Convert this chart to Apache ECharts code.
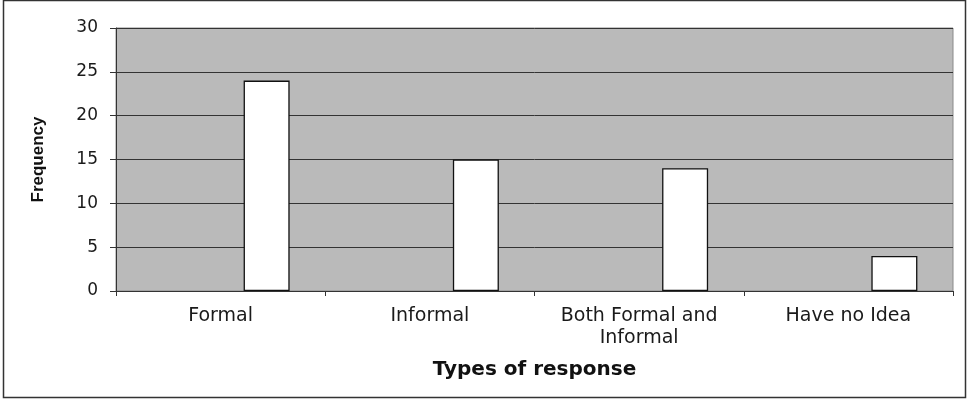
<!DOCTYPE html>
<html>
<head>
<meta charset="utf-8">
<script src="https://cdn.jsdelivr.net/npm/echarts@6/dist/echarts.min.js"></script>
<style>
  html, body { margin: 0; padding: 0; background: #fff; }
  #main { width: 970px; height: 400px; }
</style>
</head>
<body>
<div id="main"></div>
<script>
// categories and values
var categories = ['Formal', 'Informal', 'Both Formal and\nInformal', 'Have no Idea'];
var frequency = [24, 15, 14, 4];
// the original sheet had two empty series before the data one, which pushes the bars right
var emptyA = [null, null, null, null];
var emptyB = [null, null, null, null];
var yTicks = [0, 5, 10, 15, 20, 25, 30];

var chart = echarts.init(document.getElementById('main'));

var barStyle = { color: '#ffffff', borderColor: '#111', borderWidth: 1.3 };

chart.setOption({
    animation: false,
    backgroundColor: '#ffffff',
    textStyle: { fontFamily: 'DejaVu Sans' },
    graphic: [{
        type: 'rect',
        shape: { x: 3.5, y: 0.5, width: 962, height: 397 },
        style: { fill: 'none', stroke: '#333', lineWidth: 1.5 },
        silent: true
    }],
    grid: {
        left: 116, top: 28, right: 17, bottom: 109,
        show: true,
        backgroundColor: '#bababa',
        borderColor: '#8a8a8a',
        borderWidth: 1
    },
    xAxis: {
        type: 'category',
        data: categories,
        name: 'Types of response',
        nameLocation: 'middle',
        nameGap: 69,
        nameTextStyle: { fontFamily: 'DejaVu Sans', fontWeight: 'bold', fontSize: 20, color: '#111' },
        axisLine: { show: true, lineStyle: { color: '#333', width: 1 } },
        axisTick: { show: true, length: 5, alignWithLabel: false, lineStyle: { color: '#333' } },
        axisLabel: {
            interval: 0,
            margin: 14,
            fontSize: 19,
            lineHeight: 22,
            color: '#1a1a1a'
        },
        splitLine: { show: false }
    },
    yAxis: {
        type: 'value',
        min: yTicks[0],
        max: yTicks[yTicks.length - 1],
        interval: 5,
        name: 'Frequency',
        nameLocation: 'middle',
        nameGap: 69,
        nameTextStyle: { fontFamily: 'Liberation Sans', fontWeight: 'bold', fontSize: 17, color: '#111' },
        axisLine: { show: true, lineStyle: { color: '#333', width: 1 } },
        axisTick: { show: true, length: 6, lineStyle: { color: '#333' } },
        axisLabel: { margin: 18, fontSize: 17, color: '#1a1a1a' },
        splitLine: { show: true, lineStyle: { color: '#333', width: 1 } }
    },
    series: [
        { type: 'bar', data: emptyA, barWidth: 46, barGap: '0%', itemStyle: barStyle, silent: true },
        { type: 'bar', data: emptyB, barWidth: 46, barGap: '0%', itemStyle: barStyle, silent: true },
        { type: 'bar', name: 'Frequency', data: frequency, barWidth: 46, barGap: '0%', itemStyle: barStyle }
    ]
});
</script>
</body>
</html>
